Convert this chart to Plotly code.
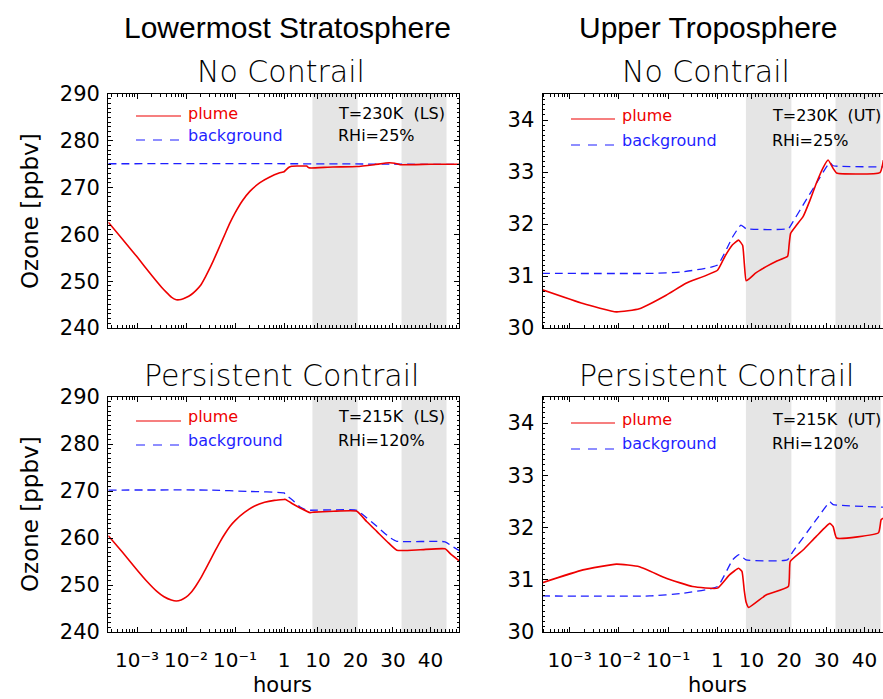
import numpy as np
import plotly.graph_objects as go

# ---------------- data (hours, ppbv) ----------------
ls_nc_plume_t = [2.59e-4, 5.0e-4, 1.0e-3, 2.0e-3, 3.16e-3, 3.98e-3, 5.0e-3, 6.3e-3, 7.9e-3, 1.0e-2, 1.26e-2,
                 1.58e-2, 2.0e-2, 2.5e-2, 3.16e-2, 3.98e-2, 5.0e-2, 6.3e-2, 7.9e-2, 0.1, 0.141, 0.2, 0.316, 0.5,
                 0.79, 1.0, 1.5, 2.2, 3.0, 4.5, 7.0, 7.6, 8.2, 14.0, 20.4, 25.0, 29.0, 30.5, 32.0, 40.0, 47.7]
ls_nc_plume_v = [262.6, 259.0, 255.2, 251.2, 248.7, 247.6, 246.6, 246.05, 246.1, 246.5, 247.1,
                 248.0, 249.2, 251.0, 253.1, 255.4, 257.8, 260.2, 262.5, 264.6, 267.2, 269.2, 271.0, 272.2,
                 273.1, 273.4, 273.8, 274.3, 274.55, 274.6, 274.6, 274.25, 274.2, 274.4, 274.5, 274.9, 275.3,
                 275.2, 274.9, 275.0, 275.0]
ls_nc_bg_t = [2.59e-4, 1.0, 20.0, 30.0, 47.7]
ls_nc_bg_v = [275.1, 275.1, 275.05, 275.0, 274.95]

ls_pc_plume_t = [2.59e-4, 5.0e-4, 1.0e-3, 1.58e-3, 2.5e-3, 3.55e-3, 5.0e-3, 6.3e-3, 7.9e-3, 1.0e-2, 1.26e-2,
                 1.58e-2, 2.0e-2, 2.5e-2, 3.16e-2, 3.98e-2, 5.0e-2, 6.3e-2, 7.9e-2, 0.1, 0.158, 0.25, 0.4, 0.63,
                 1.0, 1.3, 3.0, 5.27, 7.93, 9.0, 14.15, 20.4, 23.0, 25.7, 28.5, 31.05, 37.3, 43.9, 45.5, 47.9]
ls_pc_plume_v = [260.5, 257.0, 253.2, 250.8, 248.7, 247.5, 246.8, 246.6, 246.8, 247.4, 248.4,
                 249.8, 251.5, 253.4, 255.4, 257.4, 259.3, 261.0, 262.5, 263.7, 265.5, 266.8, 267.6, 268.0,
                 268.2, 268.25, 267.4, 266.4, 265.4, 265.5, 265.7, 265.7, 263.5, 261.4, 259.2, 257.4, 257.5,
                 257.7, 256.5, 255.0]
ls_pc_bg_t = [2.59e-4, 0.0295, 0.202, 1.0, 1.3, 3.05, 5.27, 7.0, 7.93, 14.15, 20.4, 23.0, 25.7, 29.0,
              31.05, 43.9, 45.5, 47.9]
ls_pc_bg_v = [270.2, 270.2, 269.9, 269.6, 269.3, 268.2, 266.6, 265.9, 265.9, 266.0, 265.9, 264.3, 262.5, 260.2,
              259.3, 259.2, 258.4, 257.2]

ut_nc_plume_t = [2.7e-4, 1.87e-3, 8.9e-3, 2.6e-2, 9.1e-2, 0.23, 1.0, 3.0, 5.0, 6.6, 7.67, 8.12, 8.6, 9.5,
                 11.0, 13.9, 16.5, 19.6, 20.0, 20.4, 22.0, 23.7, 25.5, 27.2, 29.0, 30.35, 31.67, 32.6, 44.1, 45.0]
ut_nc_plume_v = [30.74, 30.47, 30.31, 30.37, 30.63, 30.86, 31.11, 31.38, 31.60, 31.69, 31.59, 31.24, 30.91, 30.95,
                 31.05, 31.18, 31.28, 31.38, 31.60, 31.82, 31.98, 32.14, 32.45, 32.78, 33.08, 33.23, 33.07, 32.98,
                 32.99, 33.23]
ut_nc_bg_t = [2.7e-4, 4.2e-2, 0.196, 1.0, 5.0, 7.23, 8.57, 19.8, 21.0, 24.0, 27.2, 30.8, 31.67, 45.0]
ut_nc_bg_v = [31.05, 31.05, 31.08, 31.21, 31.75, 31.98, 31.91, 31.91, 32.04, 32.40, 32.78, 33.18, 33.12, 33.10]

ut_pc_plume_t = [2.7e-4, 1.87e-3, 8.9e-3, 2.6e-2, 9.1e-2, 0.313, 1.0, 4.12, 6.6, 7.5, 8.1, 8.57, 9.27,
                 13.9, 19.8, 20.3, 23.7, 27.2, 30.8, 31.67, 32.6, 43.7, 44.4, 45.0]
ut_pc_plume_v = [30.94, 31.19, 31.30, 31.25, 31.03, 30.87, 30.84, 31.09, 31.22, 31.16, 30.80, 30.58, 30.47,
                 30.71, 30.87, 31.35, 31.57, 31.83, 32.08, 32.02, 31.80, 31.90, 32.15, 32.18]
ut_pc_bg_t = [2.7e-4, 4.2e-2, 0.196, 1.0, 5.0, 6.79, 8.57, 19.5, 21.0, 27.2, 30.8, 31.67, 45.0]
ut_pc_bg_v = [30.69, 30.69, 30.74, 30.87, 31.38, 31.48, 31.38, 31.38, 31.54, 32.15, 32.49, 32.44, 32.39]

night_start = [8.55, 32.3]
night_end = [20.6, 44.3]

major_ticks_h = [1e-3, 1e-2, 1e-1, 1, 10, 20, 30, 40]
major_labels = ["10⁻³", "10⁻²", "10⁻¹", "1", "10", "20", "30", "40"]

panel_titles = ["No Contrail", "No Contrail", "Persistent Contrail", "Persistent Contrail"]
cond_T = ["T=230K  (LS)", "T=230K  (UT)", "T=215K  (LS)", "T=215K  (UT)"]
cond_RH = ["RHi=25%", "RHi=25%", "RHi=120%", "RHi=120%"]

# ---------------- composite axis scale: log below 1 h, linear above ----------------
LIN = 3.75 / 49.0


def u(t):
    t = np.asarray(t, dtype=float)
    return np.where(t <= 1, np.log10(np.clip(t, 1e-12, None)), (t - 1) * LIN)


W, H = 883, 699
RED = "#ee0000"
BLUE = "#1f1fff"
HFONT = "DejaVu Sans"


def px(x):
    return x / W


def py(y):
    return 1 - y / H


fig = go.Figure()

panels = [
    (ls_nc_plume_t, ls_nc_plume_v, ls_nc_bg_t, ls_nc_bg_v),
    (ut_nc_plume_t, ut_nc_plume_v, ut_nc_bg_t, ut_nc_bg_v),
    (ls_pc_plume_t, ls_pc_plume_v, ls_pc_bg_t, ls_pc_bg_v),
    (ut_pc_plume_t, ut_pc_plume_v, ut_pc_bg_t, ut_pc_bg_v),
]

for i, (pt, pv, bt, bv) in enumerate(panels):
    ax = "" if i == 0 else str(i + 1)
    fig.add_trace(go.Scatter(x=u(bt), y=bv, mode="lines", xaxis="x" + ax, yaxis="y" + ax,
                             line=dict(color=BLUE, width=1.3, dash="8px,5px", shape="spline", smoothing=0.4),
                             showlegend=False, hoverinfo="skip"))
    fig.add_trace(go.Scatter(x=u(pt), y=pv, mode="lines", xaxis="x" + ax, yaxis="y" + ax,
                             line=dict(color=RED, width=1.6, shape="spline", smoothing=0.4),
                             showlegend=False, hoverinfo="skip"))

# domains (pixel based)
xdom_left = [108.3 / W, 459.3 / W]
xdom_right = [542.7 / W, 1.0]
ydom_top = [py(328), py(94)]
ydom_bot = [py(632), py(397)]
xr_left = [float(u(2.59e-4)), float(u(47.7))]
xr_right = [float(u(2.84e-4)), float(u(44.9))]

minor_h = [m * 10.0 ** k for k in range(-4, 0) for m in range(2, 10)] + [h for h in range(2, 48) if h % 10 != 0]

layout = dict(width=W, height=H, margin=dict(l=0, r=0, t=0, b=0, autoexpand=False),
              paper_bgcolor="white", plot_bgcolor="white", showlegend=False)

specs = [(xdom_left, ydom_top, xr_left, [240, 290], 10, 1, True, False),
         (xdom_right, ydom_top, xr_right, [30, 34.5], 1, 0.1, False, False),
         (xdom_left, ydom_bot, xr_left, [240, 290], 10, 1, True, True),
         (xdom_right, ydom_bot, xr_right, [30, 34.5], 1, 0.1, False, True)]

for i, (xd, yd, xr, yr, ydt, ymin, left, bottom) in enumerate(specs):
    ax = "" if i == 0 else str(i + 1)
    fig_x = dict(domain=xd, range=xr, anchor="y" + ax, showgrid=False, zeroline=False, automargin=False,
                 showline=True, linecolor="black", linewidth=1.3, mirror="ticks",
                 ticks="inside", ticklen=5, tickwidth=1, tickcolor="black",
                 tickmode="array", tickvals=[float(v) for v in u(major_ticks_h)], ticktext=major_labels,
                 showticklabels=bottom, ticklabelstandoff=10,
                 tickfont=dict(family=HFONT, size=20, color="black"),
                 minor=dict(tickmode="array", tickvals=[float(v) for v in u(minor_h)],
                            ticks="inside", ticklen=2.5, tickwidth=1, tickcolor="black"))
    fig_y = dict(domain=yd, range=yr, anchor="x" + ax, showgrid=False, zeroline=False, automargin=False,
                 showline=True, linecolor="black", linewidth=1.3, mirror="ticks" if left else False,
                 ticks="inside", ticklen=5, tickwidth=1, tickcolor="black",
                 dtick=ydt, tick0=0, ticklabelstandoff=3,
                 tickfont=dict(family=HFONT, size=21, color="black"),
                 minor=dict(dtick=ymin, ticks="inside", ticklen=2.5, tickwidth=1, tickcolor="black"))
    layout["xaxis" + ax] = fig_x
    layout["yaxis" + ax] = fig_y

fig.update_layout(**layout)

# night shading
shapes = []
for i in range(4):
    ax = "" if i == 0 else str(i + 1)
    for s, e in zip(night_start, night_end):
        shapes.append(dict(type="rect", xref="x" + ax, yref="y" + ax + " domain",
                           x0=float(u(s)), x1=float(u(e)), y0=0, y1=1,
                           fillcolor="#e5e5e5", line=dict(width=0), layer="below"))

# legend samples + annotations
leg = [  # x_line0, x_line1, y_red, y_blue, x_text, y_plume, y_bg, x_cond
    (136, 181, 116, 140, 186, 113, 135, 336),
    (571, 615, 119, 145, 620, 115, 141, 770),
    (136, 181, 421, 445, 186, 417, 440, 336),
    (571, 615, 423, 449, 620, 419, 444, 770),
]
ann = []
for i, (x0, x1, yr_, yb, xt, yp, ybg, xc) in enumerate(leg):
    shapes.append(dict(type="line", xref="paper", yref="paper", x0=px(x0), x1=px(x1), y0=py(yr_), y1=py(yr_),
                       line=dict(color=RED, width=1.2)))
    shapes.append(dict(type="line", xref="paper", yref="paper", x0=px(x0), x1=px(x1), y0=py(yb), y1=py(yb),
                       line=dict(color=BLUE, width=1.2, dash="9px,8px")))
    ann.append(dict(x=px(xt), y=py(yp), text="plume", font=dict(family=HFONT, size=16, color=RED)))
    ann.append(dict(x=px(xt), y=py(ybg), text="background", font=dict(family=HFONT, size=16, color=BLUE)))
    ann.append(dict(x=px(xc), y=py(yp), text=cond_T[i], font=dict(family=HFONT, size=16, color="black")))
    ann.append(dict(x=px(xc), y=py(ybg), text=cond_RH[i], font=dict(family=HFONT, size=16, color="black")))

for a in ann:
    a.update(xref="paper", yref="paper", xanchor="left", yanchor="middle", showarrow=False)

big = [
    (287, 27, "Lowermost Stratosphere"),
    (708, 27, "Upper Troposphere"),
]
for x, y, t in big:
    ann.append(dict(x=px(x), y=py(y), text=t, xref="paper", yref="paper", showarrow=False,
                    xanchor="center", yanchor="middle", font=dict(family="Liberation Sans", size=30, color="black")))

sub_pos = [(281, 71), (706, 71), (281, 375), (716, 375)]
for (x, y), t in zip(sub_pos, panel_titles):
    ann.append(dict(x=px(x), y=py(y), text=t, xref="paper", yref="paper", showarrow=False,
                    xanchor="center", yanchor="middle", font=dict(family=HFONT, size=30, color="black", weight=200)))

for y in (211, 514):
    ann.append(dict(x=px(30), y=py(y), text="Ozone [ppbv]", xref="paper", yref="paper", showarrow=False,
                    textangle=-90, xanchor="center", yanchor="middle",
                    font=dict(family=HFONT, size=23, color="black")))
for x in (282, 717):
    ann.append(dict(x=px(x), y=py(685), text="hours", xref="paper", yref="paper", showarrow=False,
                    xanchor="center", yanchor="middle",
                    font=dict(family=HFONT, size=21, color="black")))

fig.update_layout(shapes=shapes, annotations=ann)

fig.write_html("out.html", config={"displayModeBar": False},
               post_script="document.body.style.margin='0';document.body.style.overflow='hidden';")
